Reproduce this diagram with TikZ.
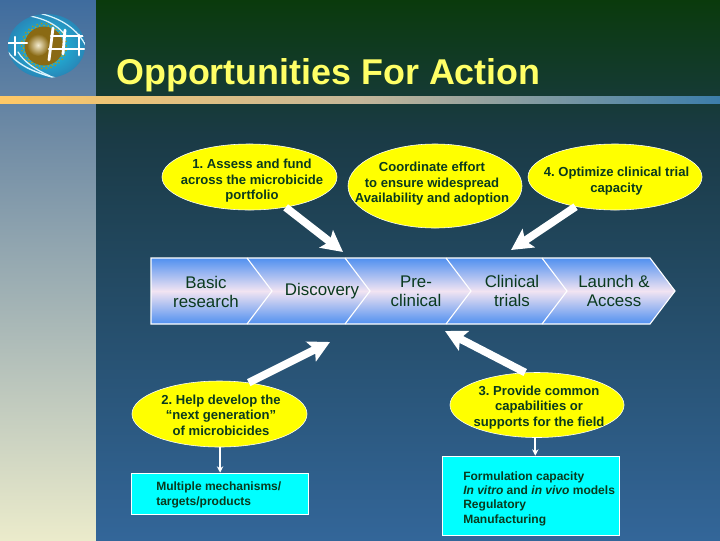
\documentclass[tikz,border=0pt]{standalone}
\usepackage{fontspec}
\setmainfont{Liberation Sans}
\usepackage{xcolor}
\usetikzlibrary{shapes.geometric,arrows.meta}
\definecolor{ink}{HTML}{0A3A1E}
\definecolor{lemon}{HTML}{FFFF00}
\definecolor{titleink}{HTML}{FFFF66}
\definecolor{aqua}{HTML}{00FFFF}
\definecolor{pinkmid}{HTML}{F2E4F2}
\definecolor{bandblue}{HTML}{5090F0}
\definecolor{nighttop}{HTML}{0A3A0C}
\definecolor{nightmid}{HTML}{1A3A45}
\definecolor{nightlow}{HTML}{336699}
\definecolor{stripa}{HTML}{3F6C9E}
\definecolor{stripb}{HTML}{6F8BA5}
\definecolor{stripc}{HTML}{EBEBCB}
\definecolor{baramber}{HTML}{FFC966}
\definecolor{barmid}{HTML}{C4B699}
\definecolor{barblue}{HTML}{3C7DAA}
\definecolor{globeblue}{HTML}{2F9FD8}
\definecolor{goldlow}{HTML}{8A6A14}
\definecolor{goldtop}{HTML}{F4ECD0}
\tikzset{
  bubble/.style={ellipse,draw=white,line width=.4pt,fill=lemon,inner sep=0pt},
  bubbletext/.style={text=ink,align=center,inner sep=0pt,font=\fontsize{9.3}{11}\selectfont\bfseries},
  stagetext/.style={text=ink,align=center,font=\fontsize{12}{13.6}\selectfont},
  aquabox/.style={draw=white,line width=.5pt,fill=aqua,inner sep=0pt},
  boxtext/.style={text=ink,align=left,anchor=west,inner sep=0pt,font=\fontsize{8.55}{10.2}\selectfont\bfseries},
  bigarrow/.style={draw=white,line width=5.5pt,-{Stealth[inset=3pt,length=15pt,width=15.5pt]}},
  thinarrow/.style={draw=white,line width=1.2pt,-{Stealth[length=4.5pt,width=4.5pt]}},
  stageline/.style={draw=white,line width=.8pt},
  gridline/.style={draw=white,line cap=round}
}
\begin{document}
\frenchspacing
\begin{tikzpicture}[x=0.025cm,y=-0.025cm]
  \useasboundingbox (0,0) rectangle (720,540);
  % backdrop
  \shade[top color=stripa,bottom color=stripb] (0,0) rectangle (96,135);
  \shade[top color=stripb,bottom color=stripc] (0,135) rectangle (96,540);
  \shade[top color=nighttop,bottom color=nightmid] (96,0) rectangle (720,135);
  \shade[top color=nightmid,bottom color=nightlow] (96,135) rectangle (720,540);
  \shade[left color=baramber,right color=barblue,middle color=barmid] (0,96) rectangle (720,103);
  % globe
  \begin{scope}
    \clip (46.5,46) ellipse [x radius=38.5,y radius=32];
    \shade[inner color=cyan!45!globeblue,outer color=globeblue!85!black] (8,14) rectangle (85,78);
    \foreach \ang in {0,12,...,348}{
      \fill[goldlow!70!yellow] (44,46) ++(\ang:22.5) circle (.9);
      \fill[goldlow!60!yellow] (44,46) ++(\ang+6:20.5) circle (.9);
    }
    \fill[goldlow] (44,46) circle (19.5);
    \shade[inner color=goldtop,outer color=goldlow] (38,45) circle (11);
    \draw[gridline,line width=.9pt,white!85!cyan] (38,13) .. controls (62,18) and (78,30) .. (86,46);
    \draw[gridline,line width=.9pt,white!85!cyan] (30,16) .. controls (50,20) and (60,28) .. (66,36);
    \draw[gridline,line width=1pt,white!85!cyan] (8,52) .. controls (18,66) and (38,74) .. (60,79);
    \draw[gridline,line width=.9pt,white!85!cyan] (18,52) .. controls (24,62) and (36,70) .. (50,76);
    \draw[gridline,line width=2pt] (49,60) -- (53,28);
    \draw[gridline,line width=2pt] (63,54) -- (65,30);
    \draw[gridline,line width=2pt] (79,55) -- (79,35);
    \draw[gridline,line width=1.6pt] (51,36) -- (84,36);
    \draw[gridline,line width=1.6pt] (49,49) -- (84,49);
    \draw[gridline,line width=1.6pt] (8,43) -- (27,43);
    \draw[gridline,line width=1.6pt] (15,37) -- (15,55);
  \end{scope}
  % title
  \node[anchor=base west,inner sep=0pt,text=titleink,font=\fontsize{25.5}{30}\selectfont\bfseries] (title) at (116,84) {Opportunities For Action};
  % value chain
  \shade[top color=bandblue,bottom color=bandblue,middle color=pinkmid] (151,258) -- (650,258) -- (675,291) -- (650,324) -- (151,324) -- cycle;
  \draw[stageline] (151,258) -- (650,258) -- (675,291) -- (650,324) -- (151,324) -- cycle;
  \foreach \sx in {247,345,446,542}{
    \draw[stageline] (\sx,258) -- (\sx+25,291) -- (\sx,324);
  }
  \node[stagetext] (basic) at (206,292) {Basic\\research};
  \node[stagetext] (discovery) at (322,291) {Discovery};
  \node[stagetext] (preclinical) at (416,291) {Pre-\\clinical};
  \node[stagetext] (trials) at (512,291) {Clinical\\trials};
  \node[stagetext] (launch) at (614,291) {Launch \&\\Access};
  \coordinate (discoverytip) at (343,252);
  \coordinate (trialstip) at (511,250);
  \coordinate (lowtipa) at (330,342);
  \coordinate (lowtipb) at (445,331);
  % bubbles
  \node[bubble,minimum width=4.375cm,minimum height=1.65cm] (assess) at (249.5,177) {};
  \node[bubble,minimum width=4.35cm,minimum height=2.1cm] (coordinate) at (435,186) {};
  \node[bubble,minimum width=4.35cm,minimum height=1.65cm] (optimize) at (615,177) {};
  \node[bubble,minimum width=4.375cm,minimum height=1.65cm] (nextgen) at (219.5,414) {};
  \node[bubble,minimum width=4.35cm,minimum height=1.625cm] (common) at (537,405) {};
  \node[bubbletext] (assesstext) at (252,181) {1. Assess and fund\\across the microbicide\\portfolio};
  \node[bubbletext] (coordinatetext) at (432,184) {Coordinate effort\\to ensure widespread\\Availability and adoption};
  \node[bubbletext] (optimizetext) at (616.5,181) {4. Optimize clinical trial\\capacity};
  \node[bubbletext] (nextgentext) at (221,415) {2. Help develop the\\“next generation”\\of microbicides};
  \node[bubbletext] (commontext) at (539,407.5) {3. Provide common\\capabilities or\\supports for the field};
  % boxes
  \node[aquabox,minimum width=4.425cm,minimum height=1.025cm] (mechbox) at (219.5,493.5) {};
  \node[aquabox,minimum width=4.425cm,minimum height=1.975cm] (formbox) at (530.5,495.5) {};
  \node[boxtext] (mechtext) at (156,495) {Multiple mechanisms/\\targets/products};
  \node[boxtext] (formtext) at (463,498.5) {Formulation capacity\\{\itshape In vitro} and {\itshape in vivo} models\\Regulatory\\Manufacturing};
  % arrows
  \draw[bigarrow] (assess.-40) -- (discoverytip);
  \draw[bigarrow] (optimize.217) -- (trialstip);
  \draw[bigarrow] (nextgen.47) -- (lowtipa);
  \draw[bigarrow] (common.110) -- (lowtipb);
  \draw[thinarrow] (nextgen.-89) -- (nextgen.-89 |- mechbox.north);
  \draw[thinarrow] (common.-93) -- (common.-93 |- formbox.north);
\end{tikzpicture}
\end{document}
